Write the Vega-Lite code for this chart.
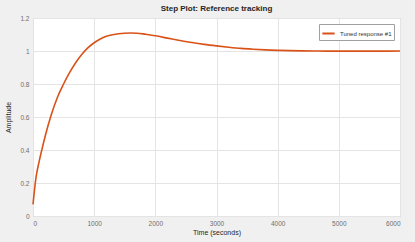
{
  "$schema": "https://vega.github.io/schema/vega-lite/v6.json",
  "width": 367,
  "height": 198,
  "autosize": {"type": "none"},
  "padding": {"left": 33, "top": 18, "right": 15, "bottom": 26},
  "background": "#f0f0f0",
  "title": {"text": "Step Plot: Reference tracking", "fontSize": 8, "font": "Liberation Sans", "fontWeight": "bold", "color": "#262626", "offset": 2},
  "data": {"values": [
    {"t": 0, "y": 0.07, "s": "Tuned response #1"},
    {"t": 25, "y": 0.16, "s": "Tuned response #1"},
    {"t": 50, "y": 0.235, "s": "Tuned response #1"},
    {"t": 100, "y": 0.33, "s": "Tuned response #1"},
    {"t": 150, "y": 0.41, "s": "Tuned response #1"},
    {"t": 200, "y": 0.485, "s": "Tuned response #1"},
    {"t": 300, "y": 0.615, "s": "Tuned response #1"},
    {"t": 400, "y": 0.72, "s": "Tuned response #1"},
    {"t": 500, "y": 0.80, "s": "Tuned response #1"},
    {"t": 600, "y": 0.87, "s": "Tuned response #1"},
    {"t": 700, "y": 0.93, "s": "Tuned response #1"},
    {"t": 800, "y": 0.98, "s": "Tuned response #1"},
    {"t": 900, "y": 1.02, "s": "Tuned response #1"},
    {"t": 1000, "y": 1.05, "s": "Tuned response #1"},
    {"t": 1100, "y": 1.073, "s": "Tuned response #1"},
    {"t": 1200, "y": 1.089, "s": "Tuned response #1"},
    {"t": 1300, "y": 1.099, "s": "Tuned response #1"},
    {"t": 1400, "y": 1.105, "s": "Tuned response #1"},
    {"t": 1500, "y": 1.108, "s": "Tuned response #1"},
    {"t": 1600, "y": 1.109, "s": "Tuned response #1"},
    {"t": 1700, "y": 1.108, "s": "Tuned response #1"},
    {"t": 1800, "y": 1.104, "s": "Tuned response #1"},
    {"t": 1900, "y": 1.098, "s": "Tuned response #1"},
    {"t": 2000, "y": 1.092, "s": "Tuned response #1"},
    {"t": 2200, "y": 1.078, "s": "Tuned response #1"},
    {"t": 2400, "y": 1.064, "s": "Tuned response #1"},
    {"t": 2600, "y": 1.051, "s": "Tuned response #1"},
    {"t": 2800, "y": 1.040, "s": "Tuned response #1"},
    {"t": 3000, "y": 1.031, "s": "Tuned response #1"},
    {"t": 3200, "y": 1.023, "s": "Tuned response #1"},
    {"t": 3400, "y": 1.016, "s": "Tuned response #1"},
    {"t": 3600, "y": 1.011, "s": "Tuned response #1"},
    {"t": 3800, "y": 1.007, "s": "Tuned response #1"},
    {"t": 4000, "y": 1.004, "s": "Tuned response #1"},
    {"t": 4200, "y": 1.002, "s": "Tuned response #1"},
    {"t": 4400, "y": 1.001, "s": "Tuned response #1"},
    {"t": 4600, "y": 1.0, "s": "Tuned response #1"},
    {"t": 4800, "y": 0.999, "s": "Tuned response #1"},
    {"t": 5000, "y": 0.999, "s": "Tuned response #1"},
    {"t": 5500, "y": 0.999, "s": "Tuned response #1"},
    {"t": 6000, "y": 1.0, "s": "Tuned response #1"}
  ]},
  "mark": {"type": "line", "strokeWidth": 1.6, "interpolate": "monotone"},
  "encoding": {
    "x": {"field": "t", "type": "quantitative", "scale": {"domain": [0, 6000], "nice": false},
      "axis": {"values": [0, 1000, 2000, 3000, 4000, 5000, 6000], "format": "d", "title": "Time (seconds)", "titlePadding": 2}},
    "y": {"field": "y", "type": "quantitative", "scale": {"domain": [0, 1.2], "nice": false},
      "axis": {"values": [0, 0.2, 0.4, 0.6, 0.8, 1, 1.2], "format": "~g", "title": "Amplitude", "titlePadding": 8}},
    "color": {"field": "s", "type": "nominal", "scale": {"range": ["#d95319"]},
      "legend": {"title": null, "orient": "top-right", "symbolType": "stroke", "symbolStrokeWidth": 2, "symbolSize": 150, "labelFontSize": 6, "labelColor": "#333333", "fillColor": "white", "strokeColor": "#a0a0a0", "padding": 2, "offset": 6, "labelFont": "Liberation Sans"}}
  },
  "config": {
    "view": {"fill": "white", "stroke": "#b8b8b8", "strokeWidth": 1},
    "axis": {"labelFont": "Liberation Sans", "titleFont": "Liberation Sans", "labelFontSize": 6.5, "labelColor": "#6e6e6e", "titleFontSize": 7, "titleFontWeight": "normal", "titleColor": "#262626", "grid": true, "gridColor": "#e4e4e4", "domain": false, "ticks": false, "labelPadding": 4}
  }
}
